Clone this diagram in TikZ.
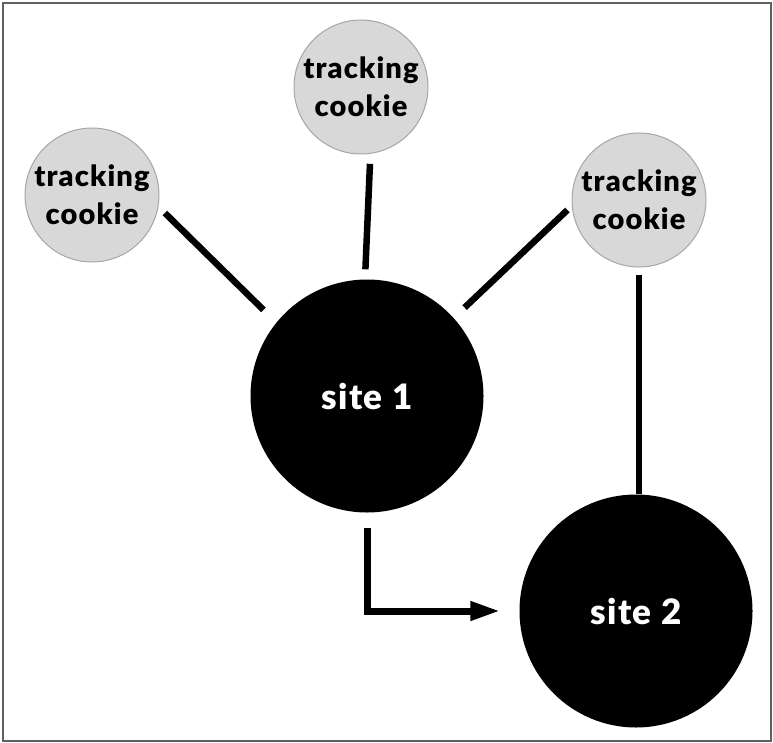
\documentclass[tikz,border=0pt]{standalone}
\usepackage{fontspec}
\setmainfont{Lato}
\newfontfamily\heavy{Lato Black}[LetterSpace=4.0]
\usetikzlibrary{arrows.meta}
\definecolor{cookiefill}{HTML}{D8D8D8}
\definecolor{cookiedraw}{HTML}{A6A6A6}
\definecolor{framegray}{HTML}{606060}
\begin{document}
\begin{tikzpicture}[x=1pt,y=-1pt,
  cookie/.style={circle, draw=cookiedraw, line width=1pt, fill=cookiefill,
    minimum size=134pt, inner sep=0pt, align=center,
    font=\heavy\fontsize{29}{38}\selectfont},
  site/.style={circle, fill=black, minimum size=233pt, inner sep=0pt,
    text=white, font=\heavy\fontsize{35}{36}\selectfont},
  link/.style={line width=6.5pt}]
\useasboundingbox (0,0) rectangle (773,743);
\draw[framegray, line width=1.5pt] (3,3) rectangle (771,741);

\node[cookie] (c1) at (92,195) {tracking\\cookie};
\node[cookie] (c2) at (361,87) {tracking\\cookie};
\node[cookie] (c3) at (639,200) {tracking\\cookie};
\node[site] (s1) at (367,396) {site 1};
\node[site] (s2) at (636,611) {site 2};

\draw[link, shorten <=9pt, shorten >=18pt] (c1.-10) -- (s1.141);
\draw[link, shorten <=10pt, shorten >=10pt] (c2.-82) -- (s1.91);
\draw[link, shorten <=6pt, shorten >=15pt] (c3.185) -- (s1.42);
\draw[link, shorten <=7pt] (c3.south) -- (c3.south |- s2.north);
\draw[line width=7pt, shorten <=15pt, shorten >=19pt,
  -{Triangle[length=30pt,width=18pt]}] (s1.south) |- (s2.west);
\end{tikzpicture}
\end{document}
